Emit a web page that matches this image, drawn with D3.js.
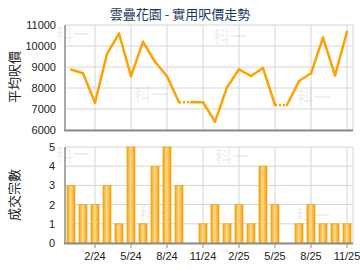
<!DOCTYPE html>
<html><head><meta charset="utf-8">
<script src="https://cdn.jsdelivr.net/npm/d3@7/dist/d3.min.js"></script>
<style>
html,body{margin:0;padding:0;background:#fff;}
svg{display:block;}
text{font-family:"Liberation Sans",Arial,sans-serif;}
.cjk{font-family:"Noto Sans CJK TC","Noto Sans CJK SC",sans-serif;}
</style></head>
<body>
<script>
const months = ['12/23','1/24','2/24','3/24','4/24','5/24','6/24','7/24','8/24','9/24','10/24','11/24',
                '12/24','1/25','2/25','3/25','4/25','5/25','6/25','7/25','8/25','9/25','10/25','11/25'];
const price = [8880,8700,7300,9620,10590,8570,10200,9250,8560,7320,7320,7320,
               6400,8030,8890,8570,8950,7190,7190,8330,8700,10400,8600,10670];
const deals = [3,2,2,3,1,5,1,4,5,3,0,1,2,1,2,1,4,2,0,1,2,1,1,1];
const xTicks = ['2/24','5/24','8/24','11/24','2/25','5/25','8/25','11/25'];
const priceTicks = [6000,7000,8000,9000,10000,11000];
const dealTicks = [0,1,2,3,4,5];
const title = '雲疊花園 - 實用呎價走勢';
const priceLabel = '平均呎價';
const dealLabel = '成交宗數';
const watermark = '科一';

const W = 360, H = 270;
const L = 65, R = 353;
const svg = d3.select('body').append('svg').attr('width', W).attr('height', H);

const defs = svg.append('defs');
const grad = defs.append('linearGradient').attr('id','barg').attr('x1','0').attr('x2','1').attr('y1','0').attr('y2','0');
grad.append('stop').attr('offset','0%').attr('stop-color','#EFA10C');
grad.append('stop').attr('offset','45%').attr('stop-color','#FDD98C');
grad.append('stop').attr('offset','60%').attr('stop-color','#FBCB6A');
grad.append('stop').attr('offset','100%').attr('stop-color','#EE9E08');

const x = d3.scaleBand().domain(months).range([L, R]).paddingInner(1/3).paddingOuter(1/6);
const cx = m => x(m) + x.bandwidth() / 2;

const yP = d3.scaleLinear().domain([6000, 11000]).range([130, 25]);
const yD = d3.scaleLinear().domain([0, 5]).range([243, 147]);

// title
svg.append('text').attr('class','cjk').attr('x', 180).attr('y', 19).attr('text-anchor','middle')
  .attr('font-size', 13).attr('fill', '#1B3A68').text(title);

function panel(y, ticks, top, bottom) {
  const g = svg.append('g');
  // watermarks
  const wm = [[L+13, top+14],[L+80, top+72 - (bottom-top>100?0:14)],[L+162, top+14],[L+243, top+72 - (bottom-top>100?0:14)]];
  // horizontal gridlines
  g.selectAll('.hg').data(ticks).enter().append('line')
    .attr('x1', L).attr('x2', R).attr('y1', d => y(d)).attr('y2', d => y(d))
    .attr('stroke', '#D6D6D6').attr('stroke-width', 1);
  // vertical gridlines
  g.selectAll('.vg').data(xTicks).enter().append('line')
    .attr('x1', d => cx(d)).attr('x2', d => cx(d)).attr('y1', top).attr('y2', bottom)
    .attr('stroke', '#D6D6D6').attr('stroke-width', 1);
  g.append('line').attr('x1', R).attr('x2', R).attr('y1', top).attr('y2', bottom)
    .attr('stroke', '#D6D6D6').attr('stroke-width', 1);
  return g;
}

function marks(g, pos) {
  g.selectAll('.wm').data(pos).enter().append('text').attr('class','cjk')
    .attr('x', d => d[0]).attr('y', d => d[1]).attr('font-size', 17).attr('font-weight','bold')
    .attr('fill', '#000').attr('fill-opacity', 0.06).text(watermark);
}

// ---- top panel ----
const gt = panel(yP, priceTicks, 25, 130);
marks(gt, [[56, 41],[134, 101],[213, 43],[297, 104]]);

// y axis labels
svg.selectAll('.pt').data(priceTicks).enter().append('text')
  .attr('x', 56).attr('y', d => yP(d) + 4).attr('text-anchor','end')
  .attr('font-size', 11).attr('fill', '#222').text(d => d);

// line segments
const segs = [];
for (let i = 1; i < months.length; i++) {
  segs.push({a: i-1, b: i, dotted: deals[i] === 0});
}
const lineGen = d3.line().x(d => cx(months[d])).y(d => yP(price[d]));
gt.selectAll('.seg').data(segs).enter().append('path')
  .attr('d', s => lineGen([s.a, s.b]))
  .attr('fill','none').attr('stroke','#FFA200').attr('stroke-width', 2.5)
  .attr('stroke-linecap', s => s.dotted ? 'butt' : 'round')
  .attr('stroke-dasharray', s => s.dotted ? '2,2' : null);

// axes lines
svg.append('line').attr('x1', L).attr('x2', L).attr('y1', 25).attr('y2', 131)
  .attr('stroke','#A8A8A8').attr('stroke-width', 2);
svg.append('line').attr('x1', L-1).attr('x2', R).attr('y1', 130.5).attr('y2', 130.5)
  .attr('stroke','#8C8C8C').attr('stroke-width', 2);

// rotated label
svg.append('text').attr('class','cjk').attr('transform','translate(19,77) rotate(-90)')
  .attr('text-anchor','middle').attr('font-size', 13).attr('fill','#222').text(priceLabel);

// ---- bottom panel ----
const gb = panel(yD, dealTicks, 147, 243);
marks(gb, [[56, 161],[139, 220],[215, 163],[296, 222]]);

svg.selectAll('.dt').data(dealTicks).enter().append('text')
  .attr('x', 55).attr('y', d => yD(d) + 4).attr('text-anchor','end')
  .attr('font-size', 11).attr('fill', '#222').text(d => d);

gb.selectAll('.bar').data(months.map((m,i) => ({m, v: deals[i]})).filter(d => d.v > 0))
  .enter().append('rect')
  .attr('x', d => x(d.m)).attr('width', x.bandwidth())
  .attr('y', d => yD(d.v)).attr('height', d => yD(0) - yD(d.v))
  .attr('fill','url(#barg)').attr('stroke','#F2A818').attr('stroke-width', 0.8);

svg.append('line').attr('x1', L).attr('x2', L).attr('y1', 147).attr('y2', 244)
  .attr('stroke','#A8A8A8').attr('stroke-width', 2);
svg.append('line').attr('x1', L-1).attr('x2', R).attr('y1', 243.5).attr('y2', 243.5)
  .attr('stroke','#8C8C8C').attr('stroke-width', 2);

// x ticks
svg.selectAll('.xt').data(xTicks).enter().append('line')
  .attr('x1', d => cx(d)).attr('x2', d => cx(d)).attr('y1', 244).attr('y2', 248)
  .attr('stroke','#8C8C8C').attr('stroke-width', 1);
svg.selectAll('.xl').data(xTicks).enter().append('text')
  .attr('x', d => cx(d)).attr('y', 260).attr('text-anchor','middle')
  .attr('font-size', 11).attr('fill','#222').text(d => d);

svg.append('text').attr('class','cjk').attr('transform','translate(19,195) rotate(-90)')
  .attr('text-anchor','middle').attr('font-size', 13).attr('fill','#222').text(dealLabel);
</script>
</body></html>
